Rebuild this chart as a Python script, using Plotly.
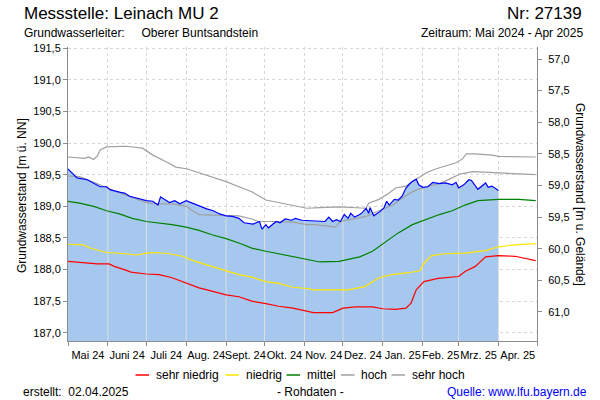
import plotly.graph_objects as go
import numpy as np
import pandas as pd

# ---------------- data ----------------
GELAENDE = 248.33  # Geländehöhe [m ü. NN]

gw_datum = ["2024-05-01", "2024-05-04", "2024-05-08", "2024-05-16", "2024-05-21", "2024-05-26",
            "2024-05-31", "2024-06-03", "2024-06-11", "2024-06-14", "2024-06-18", "2024-06-26",
            "2024-07-01", "2024-07-06", "2024-07-10", "2024-07-12", "2024-07-16", "2024-07-19",
            "2024-07-23", "2024-07-27", "2024-08-01", "2024-08-06", "2024-08-11", "2024-08-17",
            "2024-08-22", "2024-08-27", "2024-09-01", "2024-09-06", "2024-09-11", "2024-09-15",
            "2024-09-22", "2024-09-27", "2024-09-29", "2024-10-02", "2024-10-04", "2024-10-10",
            "2024-10-13", "2024-10-17", "2024-10-22", "2024-10-25", "2024-10-30", "2024-11-05",
            "2024-11-10", "2024-11-17", "2024-11-20", "2024-11-23", "2024-11-26", "2024-11-29",
            "2024-12-02", "2024-12-05", "2024-12-07", "2024-12-10", "2024-12-14", "2024-12-16",
            "2024-12-19", "2024-12-21", "2024-12-22", "2024-12-25", "2024-12-30", "2025-01-02",
            "2025-01-04", "2025-01-06", "2025-01-10", "2025-01-13", "2025-01-16", "2025-01-19",
            "2025-01-23", "2025-01-27", "2025-01-29", "2025-02-01", "2025-02-05", "2025-02-09",
            "2025-02-14", "2025-02-19", "2025-02-24", "2025-02-27", "2025-03-01", "2025-03-05",
            "2025-03-09", "2025-03-11", "2025-03-16", "2025-03-22", "2025-03-24", "2025-03-27",
            "2025-04-01"]
gw_stand = [189.59, 189.53, 189.45, 189.42, 189.37, 189.31,
            189.31, 189.26, 189.22, 189.21, 189.16, 189.11,
            189.09, 189.08, 189.02, 189.15, 189.10, 189.06,
            189.09, 189.04, 189.09, 189.05, 189.00, 188.96,
            188.93, 188.88, 188.85, 188.84, 188.81, 188.74,
            188.72, 188.76, 188.64, 188.71, 188.66, 188.76,
            188.74, 188.80, 188.78, 188.81, 188.78, 188.77,
            188.76, 188.76, 188.83, 188.76, 188.79, 188.76,
            188.87, 188.81, 188.89, 188.83, 188.87, 188.90,
            188.97, 188.89, 188.98, 188.85, 188.92, 188.98,
            189.08, 189.02, 189.11, 189.10, 189.16, 189.29,
            189.38, 189.43, 189.34, 189.30, 189.31, 189.38,
            189.36, 189.37, 189.34, 189.38, 189.29, 189.34,
            189.42, 189.41, 189.27, 189.37, 189.30, 189.32,
            189.25]

sehr_hoch_datum = ["2024-05-01", "2024-05-14", "2024-05-17", "2024-05-21", "2024-05-24", "2024-05-26",
                   "2024-05-31", "2024-06-15", "2024-06-28", "2024-07-02", "2024-07-06", "2024-07-16",
                   "2024-07-24", "2024-08-02", "2024-08-11", "2024-08-21", "2024-09-01", "2024-09-11",
                   "2024-09-21", "2024-10-02", "2024-10-12", "2024-10-23", "2024-11-03", "2024-11-13",
                   "2024-11-28", "2024-12-19", "2024-12-21", "2024-12-29", "2025-01-06", "2025-01-11",
                   "2025-01-19", "2025-01-27", "2025-02-04", "2025-02-11", "2025-02-19", "2025-02-27",
                   "2025-03-04", "2025-03-07", "2025-03-14", "2025-03-27", "2025-04-01", "2025-04-17",
                   "2025-04-30"]
sehr_hoch_wert = [189.78, 189.76, 189.78, 189.74, 189.80, 189.89,
                  189.94, 189.95, 189.92, 189.87, 189.81, 189.71,
                  189.62, 189.59, 189.53, 189.46, 189.39, 189.31,
                  189.23, 189.10, 189.06, 189.02, 188.97, 188.98,
                  188.99, 188.97, 189.05, 189.11, 189.21, 189.29,
                  189.32, 189.43, 189.53, 189.59, 189.64, 189.69,
                  189.75, 189.83, 189.83, 189.81, 189.79, 189.78,
                  189.78]

hoch_datum = ["2024-05-01", "2024-05-10", "2024-05-21", "2024-05-31", "2024-06-10", "2024-06-19",
              "2024-06-25", "2024-07-03", "2024-07-11", "2024-07-21", "2024-08-01", "2024-08-06",
              "2024-08-11", "2024-08-21", "2024-09-01", "2024-09-11", "2024-09-21", "2024-09-26",
              "2024-10-07", "2024-10-23", "2024-11-03", "2024-11-08", "2024-11-18", "2024-11-25",
              "2024-11-29", "2024-12-09", "2024-12-19", "2024-12-29", "2025-01-09", "2025-01-19",
              "2025-01-27", "2025-02-04", "2025-02-14", "2025-02-22", "2025-03-02", "2025-03-12",
              "2025-03-22", "2025-04-01", "2025-04-17", "2025-04-30"]
hoch_wert = [189.48, 189.47, 189.38, 189.29, 189.21, 189.15,
             189.10, 189.05, 189.04, 189.04, 189.00, 188.93,
             188.87, 188.86, 188.85, 188.85, 188.80, 188.76,
             188.76, 188.75, 188.71, 188.71, 188.69, 188.67,
             188.76, 188.80, 188.84, 188.93, 189.02, 189.17,
             189.26, 189.31, 189.36, 189.43, 189.51, 189.55,
             189.54, 189.53, 189.51, 189.50]

mittel_datum = ["2024-05-01", "2024-05-10", "2024-05-21", "2024-05-31", "2024-06-10", "2024-06-20",
                "2024-07-01", "2024-07-11", "2024-07-21", "2024-08-01", "2024-08-11", "2024-08-21",
                "2024-09-01", "2024-09-11", "2024-09-21", "2024-10-02", "2024-10-12", "2024-10-23",
                "2024-11-03", "2024-11-13", "2024-11-28", "2024-12-14", "2024-12-24", "2025-01-03",
                "2025-01-13", "2025-01-24", "2025-02-04", "2025-02-14", "2025-02-24", "2025-03-06",
                "2025-03-16", "2025-04-01", "2025-04-17", "2025-04-30"]
mittel_wert = [189.08, 189.05, 189.00, 188.93, 188.88, 188.81,
               188.76, 188.74, 188.71, 188.67, 188.62, 188.55,
               188.49, 188.42, 188.34, 188.29, 188.25, 188.21,
               188.17, 188.12, 188.13, 188.20, 188.29, 188.43,
               188.58, 188.71, 188.80, 188.87, 188.93, 189.02,
               189.09, 189.11, 189.11, 189.09]

niedrig_datum = ["2024-05-01", "2024-05-13", "2024-05-18", "2024-05-31", "2024-06-15", "2024-06-23",
                 "2024-07-01", "2024-07-08", "2024-07-19", "2024-07-29", "2024-08-08", "2024-08-21",
                 "2024-09-01", "2024-09-11", "2024-09-21", "2024-10-02", "2024-10-12", "2024-10-23",
                 "2024-11-03", "2024-11-08", "2024-12-05", "2024-12-18", "2024-12-29", "2025-01-08",
                 "2025-01-21", "2025-01-30", "2025-02-02", "2025-02-08", "2025-02-18", "2025-03-06",
                 "2025-03-22", "2025-04-01", "2025-04-14", "2025-04-30"]
niedrig_wert = [188.40, 188.39, 188.34, 188.27, 188.25, 188.23,
                188.26, 188.27, 188.25, 188.21, 188.13, 188.05,
                187.99, 187.92, 187.88, 187.81, 187.78, 187.72,
                187.70, 187.68, 187.68, 187.73, 187.87, 187.92,
                187.95, 187.98, 188.10, 188.22, 188.25, 188.26,
                188.30, 188.36, 188.39, 188.41]

sehr_niedrig_datum = ["2024-05-01", "2024-05-14", "2024-05-24", "2024-06-02", "2024-06-06", "2024-06-15",
                      "2024-06-19", "2024-07-01", "2024-07-11", "2024-07-21", "2024-08-01", "2024-08-11",
                      "2024-08-21", "2024-09-01", "2024-09-11", "2024-09-21", "2024-10-02", "2024-10-12",
                      "2024-10-23", "2024-11-03", "2024-11-08", "2024-11-23", "2024-12-01", "2024-12-11",
                      "2024-12-24", "2025-01-01", "2025-01-11", "2025-01-19", "2025-01-23", "2025-01-27",
                      "2025-02-02", "2025-02-13", "2025-03-01", "2025-03-06", "2025-03-14", "2025-03-22",
                      "2025-04-01", "2025-04-14", "2025-04-30"]
sehr_niedrig_wert = [188.13, 188.11, 188.09, 188.09, 188.05, 187.99,
                     187.96, 187.93, 187.92, 187.87, 187.79, 187.71,
                     187.66, 187.60, 187.57, 187.50, 187.46, 187.42,
                     187.39, 187.35, 187.32, 187.32, 187.39, 187.41,
                     187.41, 187.38, 187.37, 187.39, 187.47, 187.68,
                     187.81, 187.86, 187.89, 187.97, 188.05, 188.20,
                     188.22, 188.21, 188.14]

monats_start = ["2024-05-01", "2024-06-01", "2024-07-01", "2024-08-01", "2024-09-01", "2024-10-01",
                "2024-11-01", "2024-12-01", "2025-01-01", "2025-02-01", "2025-03-01", "2025-04-01",
                "2025-05-01"]
monats_label = ["Mai 24", "Juni 24", "Juli 24", "Aug. 24", "Sept. 24", "Okt. 24", "Nov. 24",
                "Dez. 24", "Jan. 25", "Feb. 25", "Mrz. 25", "Apr. 25"]
links_ticks = [187.0, 187.5, 188.0, 188.5, 189.0, 189.5, 190.0, 190.5, 191.0, 191.5]
rechts_ticks = [57.0, 57.5, 58.0, 58.5, 59.0, 59.5, 60.0, 60.5, 61.0]

legende_namen = ["sehr niedrig", "niedrig", "mittel", "hoch", "sehr hoch"]
legende_farben = ["#ff0000", "#ffe600", "#008000", "#a0a0a0", "#a0a0a0"]

# ---------------- layout constants ----------------
W, H = 600, 400
L, R, T, B = 68, 63, 47, 59
Y_MIN, Y_MAX = 186.87, 191.52
FONT = "Liberation Sans, Arial, sans-serif"
AXIS_GRAY = "#8c8c8c"
GRID = "#d6d6d6"


def px(x):
    return (x - L) / (W - L - R)


def py(y):
    return (H - B - y) / (H - T - B)


ms = pd.to_datetime(monats_start)
mitte = [ms[i] + (ms[i + 1] - ms[i]) / 2 for i in range(len(ms) - 1)]

# vertical light lines over the filled area, at month starts
gw_t = pd.to_datetime(gw_datum).astype("int64").to_numpy()
vx, vy = [], []
for m in ms[1:-1]:
    if m.value <= gw_t[-1]:
        top = float(np.interp(m.value, gw_t, gw_stand))
        vx += [m, m, None]
        vy += [Y_MIN, top, None]

fig = go.Figure()

fig.add_trace(go.Scatter(x=gw_datum, y=gw_stand, mode="lines", fill="tozeroy",
                         fillcolor="#a6c8ee", line=dict(width=0, color="#a6c8ee"),
                         hoverinfo="skip", showlegend=False))
fig.add_trace(go.Scatter(x=vx, y=vy, mode="lines", line=dict(color="#dedede", width=1),
                         hoverinfo="skip", showlegend=False))

stat = [(sehr_niedrig_datum, sehr_niedrig_wert), (niedrig_datum, niedrig_wert),
        (mittel_datum, mittel_wert), (hoch_datum, hoch_wert), (sehr_hoch_datum, sehr_hoch_wert)]
for (d, v), name, col in zip(stat, legende_namen, legende_farben):
    fig.add_trace(go.Scatter(x=d, y=v, mode="lines", name=name,
                             line=dict(color=col, width=1.2), showlegend=False))

fig.add_trace(go.Scatter(x=gw_datum, y=gw_stand, mode="lines", name="Grundwasserstand",
                         line=dict(color="#0000ff", width=1.2), showlegend=False))

# right axis (depth below ground)
fig.add_trace(go.Scatter(x=gw_datum, y=[GELAENDE - v for v in gw_stand], yaxis="y2",
                         mode="lines", line=dict(width=0), opacity=0, hoverinfo="skip",
                         showlegend=False))

fig.update_layout(
    width=W, height=H,
    margin=dict(l=L, r=R, t=T, b=B, autoexpand=False),
    paper_bgcolor="white", plot_bgcolor="white",
    separators=",.",
    font=dict(family=FONT, size=11, color="black"),
    showlegend=False,
    xaxis=dict(
        type="date", range=[monats_start[0], monats_start[-1]], automargin=False,
        tickmode="array", tickvals=mitte, ticktext=monats_label, ticks="", tickangle=0,
        showgrid=False, showline=True, linecolor=AXIS_GRAY, linewidth=1,
        tickfont=dict(size=11, color="black"), ticklabelstandoff=4,
        minor=dict(tickmode="array", tickvals=monats_start, ticks="outside", ticklen=4,
                   tickcolor=AXIS_GRAY, showgrid=True, gridcolor=GRID, griddash="3px,3px",
                   gridwidth=1),
        zeroline=False, fixedrange=True,
    ),
    yaxis=dict(
        range=[Y_MIN, Y_MAX], tickmode="array", tickvals=links_ticks, tickformat=".1f",
        automargin=False,
        showgrid=True, gridcolor=GRID, griddash="3px,3px", gridwidth=1,
        showline=True, linecolor=AXIS_GRAY, linewidth=1, ticks="outside", ticklen=4,
        tickcolor=AXIS_GRAY, zeroline=False, tickfont=dict(size=11, color="black"),
    ),
    yaxis2=dict(
        overlaying="y", side="right", range=[GELAENDE - Y_MIN, GELAENDE - Y_MAX],
        automargin=False,
        tickmode="array", tickvals=rechts_ticks, tickformat=".1f", showgrid=False,
        showline=True, linecolor=AXIS_GRAY, linewidth=1, ticks="outside", ticklen=4,
        tickcolor=AXIS_GRAY, zeroline=False, tickfont=dict(size=11, color="black"),
        ticklabelstandoff=4,
    ),
)

ann = []


def text(x, y, s, size=12, xanchor="left", color="black", angle=0):
    ann.append(dict(x=px(x), y=py(y), xref="paper", yref="paper", text=s, showarrow=False,
                    xanchor=xanchor, yanchor="middle", textangle=angle,
                    font=dict(family=FONT, size=size, color=color)))


text(22, 13, "Messstelle: Leinach MU 2", size=17)
text(584, 13, "Nr: 27139", size=17, xanchor="right")
text(22, 33, "Grundwasserleiter:&nbsp;&nbsp;&nbsp;&nbsp; Oberer Buntsandstein", size=12)
text(585, 33, "Zeitraum: Mai 2024 - Apr 2025", size=12, xanchor="right")
text(22, 196, "Grundwasserstand [m ü. NN]", size=12, xanchor="center", angle=-90)
text(580, 194, "Grundwasserstand [m u. Gelände]", size=12, xanchor="center", angle=90)
text(21, 392, "erstellt:&nbsp; 02.04.2025", size=12)
text(310, 392, "- Rohdaten -", size=12, xanchor="center")
text(589, 392, "Quelle: www.lfu.bayern.de", size=12, xanchor="right", color="#0000ff")

# legend (line samples + labels)
leg_x = [135.5, 225.5, 286.5, 341, 391.5]
shapes = []
for x0, name, col in zip(leg_x, legende_namen, legende_farben):
    shapes.append(dict(type="line", xref="paper", yref="paper", x0=px(x0), x1=px(x0 + 13.5),
                       y0=py(375), y1=py(375), line=dict(color=col, width=1.5)))
    text(x0 + 18, 374.5, name, size=12)

fig.update_layout(annotations=ann, shapes=shapes)

fig.write_html("out.html", config={"displayModeBar": False},
               post_script="document.body.style.margin='0';document.body.style.overflow='hidden';")
